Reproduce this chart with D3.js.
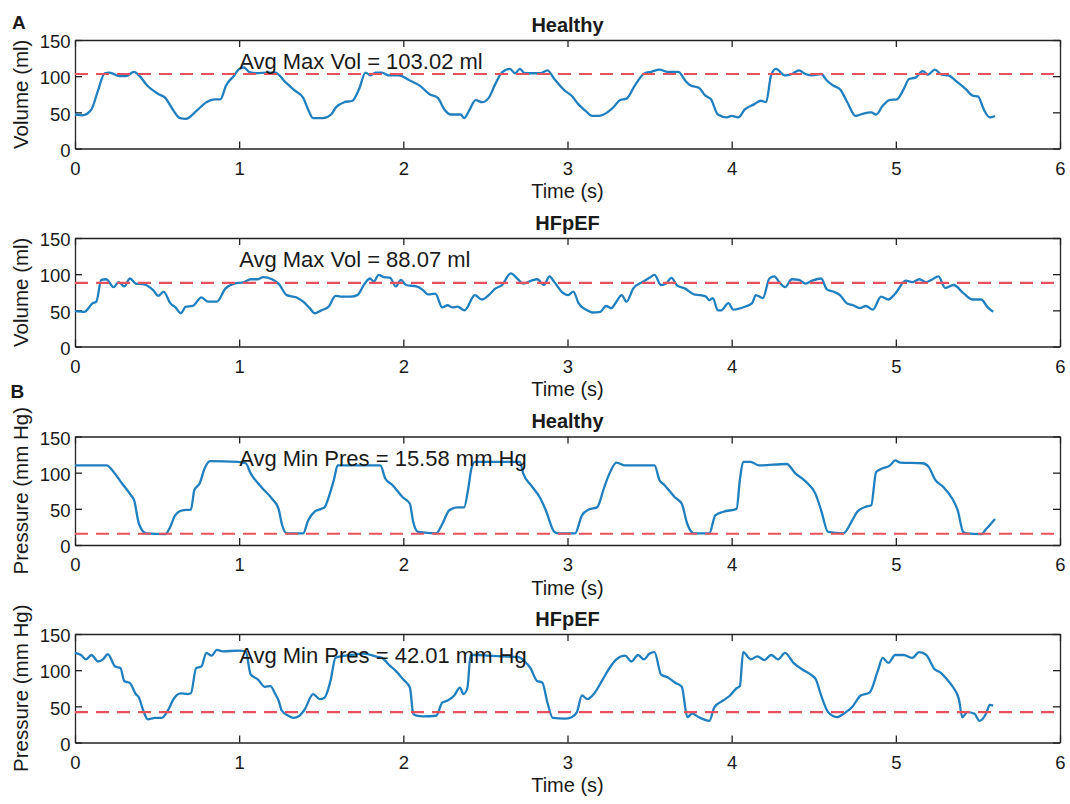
<!DOCTYPE html>
<html>
<head>
<meta charset="utf-8">
<script src="https://cdn.jsdelivr.net/npm/d3@7"></script>
<style>
  body { margin: 0; background: #fff; }
  svg text { font-family: "Liberation Sans", Arial, Helvetica, sans-serif; fill: #1a1a1a; }
</style>
</head>
<body>
<svg id="chart" width="1070" height="804"></svg>
<script>
// [time (s), value]
const healthyVolume = [[0,47],[0.046,46],[0.1,54],[0.14,80],[0.18,104],[0.21,105],[0.27,100],[0.31,100],[0.36,106],[0.39,101],[0.44,87],[0.51,75],[0.55,70],[0.59,56],[0.64,42],[0.675,41],[0.74,52],[0.8,64],[0.85,68],[0.885,68],[0.92,87],[0.97,101],[1.0,110],[1.03,112],[1.06,106],[1.1,104],[1.18,105],[1.22,105],[1.28,92],[1.34,80],[1.39,70],[1.42,54],[1.45,42],[1.51,42],[1.56,47],[1.59,57],[1.64,64],[1.69,66],[1.73,82],[1.77,105],[1.8,101],[1.83,105],[1.87,105],[1.91,101],[1.97,101],[2.04,94],[2.1,87],[2.16,75],[2.21,70],[2.25,54],[2.29,47],[2.35,47],[2.37,42],[2.4,52],[2.44,67],[2.48,64],[2.52,70],[2.56,89],[2.6,105],[2.65,110],[2.68,104],[2.71,110],[2.74,104],[2.78,104],[2.836,104],[2.878,108],[2.92,96],[2.983,80],[3.025,73],[3.067,61],[3.11,52],[3.15,45],[3.19,45],[3.22,47],[3.28,57],[3.32,67],[3.36,69],[3.41,87],[3.47,104],[3.51,106],[3.56,109],[3.61,106],[3.675,106],[3.717,94],[3.75,87],[3.8,84],[3.84,73],[3.874,68],[3.916,47],[3.97,43],[4.0,45],[4.04,43],[4.08,54],[4.136,61],[4.178,66],[4.21,64],[4.24,101],[4.27,110],[4.325,101],[4.367,103],[4.41,108],[4.45,103],[4.49,101],[4.545,103],[4.58,94],[4.618,87],[4.66,82],[4.7,66],[4.755,45],[4.797,48],[4.85,50],[4.88,47],[4.92,59],[4.96,67],[5.006,68],[5.048,82],[5.08,96],[5.12,98],[5.164,107],[5.195,102],[5.237,109],[5.28,102],[5.32,101],[5.373,92],[5.426,82],[5.468,73],[5.5,72],[5.54,52],[5.572,43],[5.604,45]];

const hfpefVolume = [[0,49],[0.057,48],[0.109,60],[0.13,62],[0.16,92],[0.19,93],[0.235,82],[0.266,89],[0.3,83],[0.335,94],[0.37,87],[0.42,86],[0.476,78],[0.507,70],[0.54,76],[0.58,60],[0.612,54],[0.644,46],[0.675,55],[0.717,56],[0.77,68],[0.81,62],[0.864,62],[0.916,80],[0.97,87],[1.03,89],[1.07,93],[1.11,93],[1.147,96],[1.2,93],[1.24,87],[1.29,71],[1.346,68],[1.39,62],[1.43,53],[1.46,46],[1.5,50],[1.545,55],[1.587,70],[1.618,69],[1.68,69],[1.72,71],[1.765,87],[1.797,94],[1.82,90],[1.85,99],[1.88,96],[1.92,95],[1.954,83],[1.985,92],[2.017,85],[2.08,83],[2.12,78],[2.15,72],[2.195,73],[2.237,54],[2.27,57],[2.3,54],[2.33,55],[2.373,50],[2.436,71],[2.478,65],[2.52,71],[2.56,80],[2.6,85],[2.655,101],[2.698,93],[2.73,87],[2.78,91],[2.815,93],[2.857,85],[2.89,97],[2.92,89],[2.973,74],[3.004,71],[3.036,76],[3.067,60],[3.12,50],[3.15,47],[3.2,48],[3.235,56],[3.266,53],[3.298,62],[3.33,71],[3.36,62],[3.4,80],[3.455,89],[3.5,95],[3.53,99],[3.57,85],[3.6,87],[3.633,95],[3.665,85],[3.717,80],[3.77,72],[3.81,71],[3.843,69],[3.864,64],[3.885,67],[3.916,50],[3.937,50],[3.98,60],[4.01,51],[4.08,55],[4.125,60],[4.147,71],[4.19,67],[4.23,94],[4.26,97],[4.29,89],[4.325,82],[4.367,93],[4.41,92],[4.45,87],[4.49,91],[4.545,94],[4.58,79],[4.618,76],[4.66,71],[4.7,60],[4.74,57],[4.78,53],[4.818,56],[4.86,51],[4.91,69],[4.954,65],[4.996,73],[5.06,91],[5.1,89],[5.143,93],[5.185,89],[5.216,92],[5.26,97],[5.3,81],[5.352,85],[5.415,73],[5.468,65],[5.52,65],[5.56,54],[5.593,48]];

const healthyPressure = [[0,110],[0.193,110],[0.235,101],[0.287,85],[0.34,69],[0.36,62],[0.39,29],[0.434,16],[0.55,15],[0.58,25],[0.61,41],[0.654,48],[0.706,49],[0.727,76],[0.759,85],[0.79,106],[0.822,116],[0.99,115],[1.04,113],[1.07,99],[1.136,80],[1.2,64],[1.24,50],[1.26,29],[1.29,16],[1.39,16],[1.42,34],[1.46,46],[1.5,50],[1.52,52],[1.545,66],[1.577,90],[1.6,110],[1.86,110],[1.89,92],[1.933,83],[1.996,66],[2.04,57],[2.06,32],[2.09,18],[2.2,16],[2.237,29],[2.28,48],[2.33,52],[2.37,52],[2.394,76],[2.415,106],[2.436,115],[2.71,115],[2.73,99],[2.78,82],[2.836,64],[2.868,48],[2.92,18],[2.94,16],[3.046,16],[3.088,41],[3.13,49],[3.18,52],[3.224,80],[3.256,99],[3.298,114],[3.35,110],[3.53,110],[3.56,90],[3.59,83],[3.654,66],[3.696,57],[3.73,29],[3.77,16],[3.864,16],[3.9,41],[3.95,46],[4.03,50],[4.05,90],[4.07,115],[4.115,115],[4.167,110],[4.335,112],[4.388,99],[4.45,88],[4.51,71],[4.545,48],[4.587,18],[4.68,16],[4.734,34],[4.765,46],[4.818,53],[4.85,55],[4.88,101],[4.92,106],[4.965,110],[4.996,117],[5.027,114],[5.164,113],[5.2,108],[5.24,90],[5.29,80],[5.344,64],[5.377,48],[5.41,18],[5.43,16],[5.52,15],[5.55,22],[5.604,36]];

const hfpefPressure = [[0,124],[0.036,121],[0.067,115],[0.1,121],[0.14,112],[0.17,115],[0.2,122],[0.245,105],[0.277,103],[0.3,85],[0.335,82],[0.37,67],[0.39,62],[0.413,46],[0.444,32],[0.486,34],[0.528,34],[0.57,46],[0.6,60],[0.644,68],[0.686,67],[0.706,68],[0.738,103],[0.77,105],[0.8,124],[0.832,120],[0.864,128],[0.9,126],[1.0,127],[1.04,126],[1.07,94],[1.115,87],[1.157,77],[1.19,78],[1.22,67],[1.24,58],[1.26,44],[1.3,37],[1.33,34],[1.367,37],[1.4,46],[1.45,67],[1.49,60],[1.52,62],[1.556,85],[1.587,117],[1.618,119],[1.68,121],[1.765,123],[1.83,119],[1.87,117],[1.91,108],[1.954,99],[2.0,87],[2.04,76],[2.06,40],[2.08,37],[2.12,36],[2.2,37],[2.237,55],[2.27,58],[2.31,65],[2.345,76],[2.366,67],[2.39,75],[2.41,121],[2.46,121],[2.52,120],[2.6,119],[2.7,118],[2.74,112],[2.774,103],[2.815,85],[2.846,83],[2.878,55],[2.91,34],[2.984,33],[3.025,35],[3.057,42],[3.088,65],[3.12,60],[3.16,67],[3.214,87],[3.256,103],[3.298,115],[3.35,120],[3.39,112],[3.43,121],[3.465,115],[3.5,123],[3.53,125],[3.57,94],[3.612,90],[3.654,83],[3.696,77],[3.73,35],[3.76,40],[3.8,35],[3.864,30],[3.895,49],[3.948,58],[3.99,65],[4.03,75],[4.05,78],[4.07,125],[4.115,115],[4.157,119],[4.2,114],[4.24,121],[4.283,115],[4.325,124],[4.377,110],[4.43,101],[4.482,94],[4.513,87],[4.545,65],[4.587,42],[4.64,35],[4.69,41],[4.734,49],[4.786,65],[4.84,69],[4.89,99],[4.92,117],[4.954,110],[4.996,121],[5.048,121],[5.1,117],[5.143,125],[5.185,121],[5.237,101],[5.27,97],[5.32,85],[5.35,76],[5.384,60],[5.405,35],[5.436,42],[5.478,40],[5.51,30],[5.55,40],[5.572,52],[5.593,51]];

const avgValues = [103.02, 88.07, 15.58, 42.01];
const avgNotes = ["Avg Max Vol = 103.02 ml", "Avg Max Vol = 88.07 ml",
                  "Avg Min Pres = 15.58 mm Hg", "Avg Min Pres = 42.01 mm Hg"];
const titles = ["Healthy", "HFpEF", "Healthy", "HFpEF"];
const yLabels = ["Volume (ml)", "Volume (ml)", "Pressure (mm Hg)", "Pressure (mm Hg)"];
const series = [healthyVolume, hfpefVolume, healthyPressure, hfpefPressure];
const xTicks = [0, 1, 2, 3, 4, 5, 6];
const yTicks = [0, 50, 100, 150];

const svg = d3.select("#chart");
const font = '"Liberation Sans", Arial, Helvetica, sans-serif';
const left = 75, right = 1060, plotH = 108.5;
const tops = [40, 238, 436.5, 634];
const tick = 7;

const x = d3.scaleLinear().domain([0, 6]).range([left, right]);

series.forEach((data, i) => {
  const top = tops[i];
  const y = d3.scaleLinear().domain([0, 150]).range([top + plotH, top]);
  const g = svg.append("g");

  const styleAxis = (sel) => {
    sel.attr("font-size", 18.5).attr("font-family", font);
    sel.select(".domain").attr("stroke", "#222").attr("stroke-width", 1.3);
    sel.selectAll(".tick line").attr("stroke", "#222").attr("stroke-width", 1.3);
    sel.selectAll(".tick text").attr("fill", "#1a1a1a");
  };

  g.append("g")
    .attr("transform", `translate(0,${top + plotH})`)
    .call(d3.axisBottom(x).tickValues(xTicks).tickFormat(d3.format("d"))
      .tickSizeInner(-tick).tickSizeOuter(0).tickPadding(13))
    .call(styleAxis);
  g.append("g")
    .attr("transform", `translate(0,${top})`)
    .call(d3.axisTop(x).tickValues(xTicks).tickFormat("")
      .tickSizeInner(-tick).tickSizeOuter(0))
    .call(styleAxis);
  g.append("g")
    .attr("transform", `translate(${left},0)`)
    .call(d3.axisLeft(y).tickValues(yTicks)
      .tickSizeInner(-tick).tickSizeOuter(0).tickPadding(4.5))
    .call(styleAxis)
    .selectAll(".tick text").attr("dy", "0.42em");
  g.append("g")
    .attr("transform", `translate(${right},0)`)
    .call(d3.axisRight(y).tickValues(yTicks).tickFormat("")
      .tickSizeInner(-tick).tickSizeOuter(0))
    .call(styleAxis);

  const line = d3.line().x((d) => x(d[0])).y((d) => y(d[1]));

  g.append("path")
    .datum(data)
    .attr("d", line.curve(d3.curveMonotoneX))
    .attr("fill", "none")
    .attr("stroke", "#1f7fbf")
    .attr("stroke-width", 2.3)
    .attr("stroke-linejoin", "round");

  g.append("path")
    .datum([[0, avgValues[i]], [6, avgValues[i]]])
    .attr("d", line.curve(d3.curveLinear))
    .attr("fill", "none")
    .attr("stroke", "#e5525e")
    .attr("stroke-width", 2.2)
    .attr("stroke-dasharray", "13,8");

  g.append("text")
    .attr("x", x(1))
    .attr("y", y(120))
    .attr("dy", "0.35em")
    .attr("font-size", 22)
    .text(avgNotes[i]);

  g.append("text")
    .attr("x", (left + right) / 2)
    .attr("y", top - 8.5)
    .attr("text-anchor", "middle")
    .attr("font-size", 20)
    .attr("font-weight", "bold")
    .text(titles[i]);

  g.append("text")
    .attr("x", (left + right) / 2)
    .attr("y", top + plotH + 49.5)
    .attr("text-anchor", "middle")
    .attr("font-size", 20)
    .text("Time (s)");

  g.append("text")
    .attr("transform", `translate(27.5,${top + plotH / 2}) rotate(-90)`)
    .attr("text-anchor", "middle")
    .attr("font-size", 20.5)
    .text(yLabels[i]);
});

svg.append("text").attr("x", 12).attr("y", 28.5)
  .attr("font-size", 19).attr("font-weight", "bold").text("A");
svg.append("text").attr("x", 10.5).attr("y", 398)
  .attr("font-size", 19).attr("font-weight", "bold").text("B");
</script>
</body>
</html>
